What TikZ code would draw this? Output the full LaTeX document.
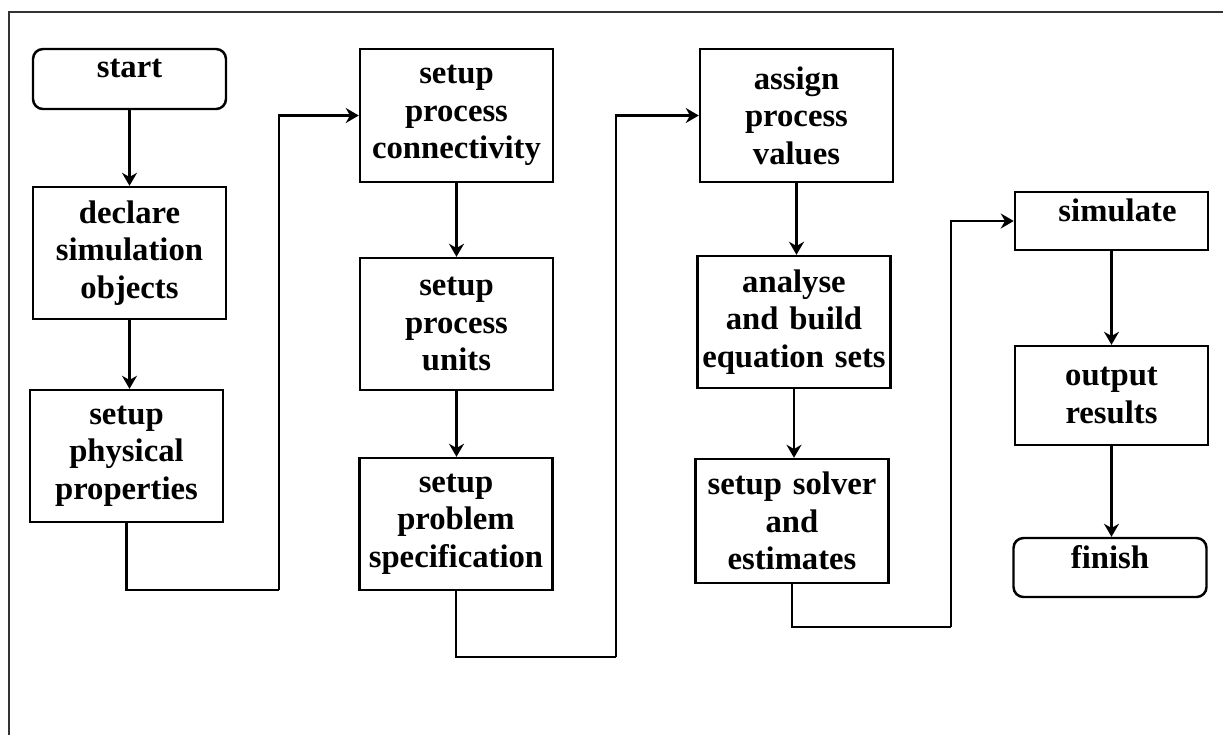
\documentclass[tikz,border=0pt]{standalone}
\usepackage{fontspec}
\setmainfont{Liberation Serif}
\usetikzlibrary{arrows.meta}

\begin{document}
\begin{tikzpicture}
                [
                    box/.style={rectangle,draw=black,line width=0.7pt,inner xsep=0.04cm,inner ysep=0,text width=1.85cm,align=center,minimum height=#1,font=\fontsize{9.3}{10.7}\selectfont\bfseries},
                    box/.default=1.32cm,
                    term/.style={box=#1,rounded corners=0.1cm,text depth=0.22cm},
                    link/.style={-{Stealth[length=1.3mm,width=1.5mm]},line width=0.7pt,draw=black},
                ]
                \useasboundingbox (0,0) rectangle (12.23,-7.35);
                \draw[line width=0.6pt,draw=black!80] (0.09,-7.35) |- (12.23,-0.12);
                % first column
                \draw (1.295,-0.79) node[term=0.60cm] (start) {start};
                \draw (1.295,-2.53) node[box] (declare) {declare\\simulation\\objects};
                \draw (1.265,-4.56) node[box] (phys) {setup\\physical\\properties};
                % second column
                \draw (4.565,-1.155) node[box=1.33cm] (conn) {setup\\process\\connectivity};
                \draw (4.565,-3.24) node[box] (units) {setup\\process\\units};
                \draw (4.56,-5.24) node[box] (spec) {setup\\problem\\specification};
                % third column
                \draw (7.965,-1.155) node[box=1.33cm] (assign) {assign\\process\\values};
                \draw (7.94,-3.22) node[box] (build) {analyse\\and build\\equation sets};
                \draw (7.92,-5.21) node[box=1.24cm] (solver) {setup solver\\and\\estimates};
                % last column
                \draw (11.115,-2.21) node[term=0.58cm,rounded corners=0] (sim) {\hspace*{0.12cm}simulate};
                \draw (11.115,-3.955) node[box=0.99cm] (out) {output\\results};
                \draw (11.10,-5.675) node[term=0.59cm] (finish) {finish};
                % turning points between the columns
                \coordinate (j1) at (2.79,-5.90);
                \coordinate (j2) at (6.16,-6.57);
                \coordinate (j3) at (9.51,-6.27);
                \draw[link] (start) -- (declare);
                \draw[link] (declare.south) -- (declare.south |- phys.north);
                \draw[-,line width=0.7pt] (phys.south) |- (j1);
                \draw[link] (j1) |- (conn.west);
                \draw[link] (conn) -- (units);
                \draw[link] (units.south) -- (units.south |- spec.north);
                \draw[-,line width=0.7pt] (spec.south) |- (j2);
                \draw[link] (j2) |- (assign.west);
                \draw[link] (assign.south) -- (assign.south |- build.north);
                \draw[link] (build.south) -- (build.south |- solver.north);
                \draw[-,line width=0.7pt] (solver.south) |- (j3);
                \draw[link] (j3) |- (sim.west);
                \draw[link] (sim) -- (out);
                \draw[link] (out.south) -- (out.south |- finish.north);
            \end{tikzpicture}
\end{document}
